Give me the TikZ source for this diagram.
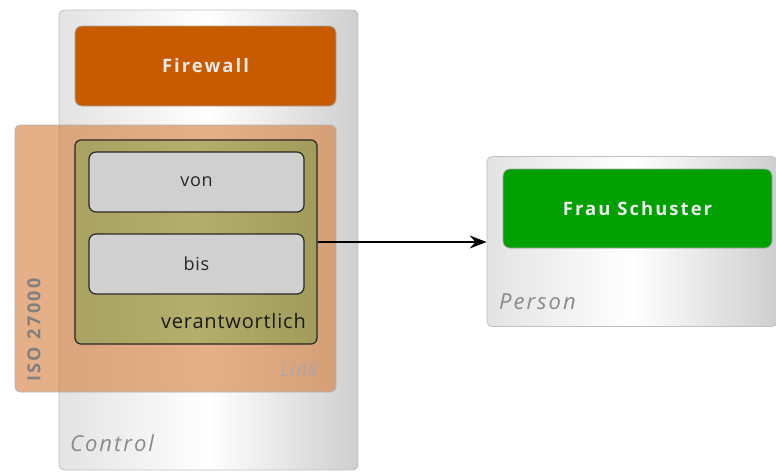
\documentclass[tikz,border=0pt]{standalone}
\usepackage{fontspec}
\setmainfont{Open Sans}
\usetikzlibrary{arrows.meta}
\definecolor{fwcol}{HTML}{C85A00}
\definecolor{greencol}{HTML}{00A000}
\definecolor{isocol}{HTML}{D47B39}
\definecolor{olivel}{HTML}{A9A262}
\definecolor{olivem}{HTML}{B4AE6C}
\definecolor{oliver}{HTML}{A29C5A}
\definecolor{boxgray}{HTML}{D0D0D0}
\definecolor{framegray}{HTML}{C0C0C0}
\definecolor{labelgray}{HTML}{8A8A8A}
\definecolor{linkgray}{HTML}{ABA6A8}
\tikzset{
  container/.style={draw=framegray, line width=0.8pt, rounded corners=5pt,
    left color=black!11, right color=black!19, middle color=white, inner sep=0pt},
  solidbox/.style={draw=black!35, line width=0.8pt, rounded corners=7pt, inner sep=0pt,
    text=white!92!black},
  boldtext/.style={font=\bfseries\addfontfeature{LetterSpace=11}\fontsize{18.5}{21}\selectfont},
  innerbox/.style={draw=black!85, line width=1.2pt, rounded corners=7pt, inner sep=0pt,
    fill=boxgray, text=black!85, font=\addfontfeature{LetterSpace=4}\fontsize{18}{20}\selectfont},
  containerlabel/.style={inner sep=0pt, text=labelgray,
    font=\itshape\addfontfeature{LetterSpace=9}\fontsize{22}{24}\selectfont}
}
\begin{document}
\begin{tikzpicture}[x=1pt,y=-1pt]
\useasboundingbox (0,0) rectangle (776,471);
% Control container
\node[container, minimum width=299pt, minimum height=460pt] (control) at (208.5,240) {};
\node[containerlabel, anchor=base west] (controllabel) at (70,451) {Control};
% Firewall
\node[solidbox, boldtext, fill=fwcol, minimum width=261pt, minimum height=80pt] (firewall) at (205.5,66) {Firewall};
% ISO 27000 container (transparent)
\node[draw=black!30, line width=0.8pt, rounded corners=5pt, fill=isocol, fill opacity=0.6,
  minimum width=321pt, minimum height=267pt, inner sep=0pt] (iso) at (175.5,258.5) {};
\node[rotate=90, inner sep=0pt, text=black!50,
  font=\bfseries\addfontfeature{LetterSpace=14}\fontsize{18}{20}\selectfont] (isolabel) at (34,330) {ISO 27000};
\node[inner sep=0pt, anchor=base east, text=linkgray,
  font=\itshape\addfontfeature{LetterSpace=6}\fontsize{19}{21}\selectfont] (linklabel) at (318,376) {Link};
% Link box
\node[draw=black!85, line width=1.2pt, rounded corners=6pt, left color=olivel, right color=oliver, middle color=olivem,
  minimum width=242pt, minimum height=204pt, inner sep=0pt] (link) at (196,242) {};
\node[inner sep=0pt, anchor=base east, text=black!90,
  font=\addfontfeature{LetterSpace=4}\fontsize{20}{22}\selectfont] (verant) at (306,328) {verantwortlich};
\node[innerbox, minimum width=215pt, minimum height=60pt] (von) at (196.5,182) {von};
\node[innerbox, minimum width=215pt, minimum height=60pt] (bis) at (196.5,264) {bis};
% Person container
\node[container, minimum width=290pt, minimum height=170pt] (person) at (632,241.5) {};
\node[containerlabel, anchor=base west] (personlabel) at (499,309) {Person};
\node[solidbox, boldtext, fill=greencol, minimum width=269pt, minimum height=79pt] (frau) at (637.5,208.5) {Frau Schuster};
% Arrow
\draw[line width=1.2pt, -{Stealth[length=17pt,width=13pt,inset=6pt]}] (link.east) -- (link.east -| person.west);
\end{tikzpicture}
\end{document}
